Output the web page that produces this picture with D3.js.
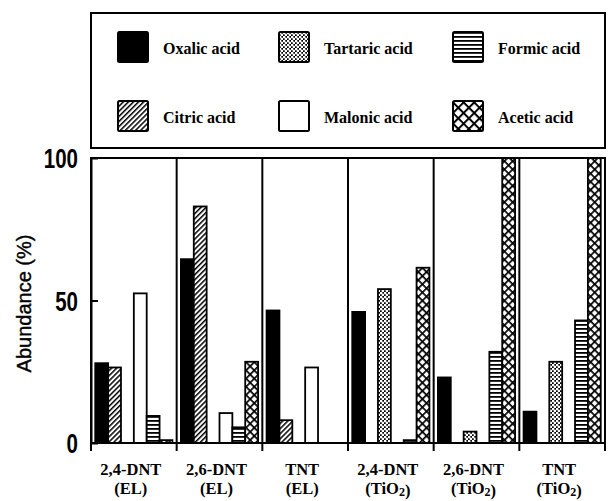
<!DOCTYPE html>
<html>
<head>
<meta charset="utf-8">
<script src="https://cdn.jsdelivr.net/npm/d3@7/dist/d3.min.js"></script>
<style>
  body { margin: 0; background: #fff; }
  svg { display: block; }
</style>
</head>
<body>
<svg id="chart" width="608" height="501"></svg>
<script>
// Nitroaromatic samples and the degradation method used on each
const groupNames   = ["2,4-DNT", "2,6-DNT", "TNT", "2,4-DNT", "2,6-DNT", "TNT"];
const groupMethods = ["EL", "EL", "EL", "TiO2", "TiO2", "TiO2"];

// Carboxylic acids, in bar order inside each group
const acids = ["Oxalic acid", "Citric acid", "Tartaric acid", "Malonic acid", "Formic acid", "Acetic acid"];

// Abundance (%) of each acid for every sample (0 = not detected)
const oxalic   = [28, 64.5, 46.5, 46, 23, 11];
const citric   = [26.5, 83, 8, 0, 0, 0];
const tartaric = [0, 0, 0, 54, 4, 28.5];
const malonic  = [52.5, 10.5, 26.5, 0, 0, 0];
const formic   = [9.5, 5.5, 0, 1, 32, 43];
const acetic   = [1, 28.5, 0, 61.5, 100, 100];

const yTicks = [0, 50, 100];

const series = [oxalic, citric, tartaric, malonic, formic, acetic];

const svg = d3.select("#chart");
const plot = { left: 91, right: 605, top: 158, bottom: 443 };
const legendBox = { left: 91, right: 605, top: 13, bottom: 148 };

// ---- fill patterns ----
const defs = svg.append("defs");
function pattern(id, size, rotate) {
  const p = defs.append("pattern")
    .attr("id", id)
    .attr("patternUnits", "userSpaceOnUse")
    .attr("width", size).attr("height", size);
  if (rotate) p.attr("patternTransform", `rotate(${rotate})`);
  p.append("rect").attr("width", size).attr("height", size).attr("fill", "#fff");
  return p;
}
// tartaric: fine stipple
{
  const p = pattern("pat-tartaric", 4);
  p.select("rect").attr("fill", "#000");
  p.append("circle").attr("cx", 1).attr("cy", 1).attr("r", 1.4).attr("fill", "#fff");
  p.append("circle").attr("cx", 3).attr("cy", 3).attr("r", 1.4).attr("fill", "#fff");
}
// formic: horizontal stripes
{
  const p = pattern("pat-formic", 4);
  p.append("rect").attr("width", 4).attr("height", 1.8).attr("fill", "#000");
}
// citric: diagonal stripes
{
  const p = pattern("pat-citric", 3.6, 45);
  p.append("rect").attr("width", 1.5).attr("height", 3.6).attr("fill", "#000");
}
// acetic: diagonal cross-hatch
function crossHatch(id, size, w) {
  const p = pattern(id, size, 45);
  p.append("rect").attr("width", w).attr("height", size).attr("fill", "#000");
  p.append("rect").attr("width", size).attr("height", w).attr("fill", "#000");
}
crossHatch("pat-acetic", 5.8, 1.7);
crossHatch("pat-acetic-key", 7.5, 2);

const fills = {
  "Oxalic acid": "#000",
  "Citric acid": "url(#pat-citric)",
  "Tartaric acid": "url(#pat-tartaric)",
  "Malonic acid": "#fff",
  "Formic acid": "url(#pat-formic)",
  "Acetic acid": "url(#pat-acetic)"
};
const keyFills = Object.assign({}, fills, { "Acetic acid": "url(#pat-acetic-key)" });

// ---- scales ----
const x0 = d3.scaleBand().domain(d3.range(groupNames.length))
  .range([plot.left, plot.right]).paddingInner(0).paddingOuter(0);
const x1 = d3.scaleBand().domain(acids)
  .range([0, x0.bandwidth()]).paddingInner(0).paddingOuter(0.33);
const y = d3.scaleLinear().domain([0, 100]).range([plot.bottom, plot.top]);
const xEdge = d3.scaleLinear().domain([0, groupNames.length]).range([plot.left, plot.right]);

// ---- bars ----
const barData = [];
groupNames.forEach((g, gi) => {
  acids.forEach((a, ai) => {
    const v = series[ai][gi];
    if (v > 0) barData.push({ gi, acid: a, value: v });
  });
});
svg.append("g").selectAll("rect").data(barData).join("rect")
  .attr("x", d => x0(d.gi) + x1(d.acid))
  .attr("y", d => y(d.value))
  .attr("width", x1.bandwidth())
  .attr("height", d => y(0) - y(d.value))
  .attr("fill", d => fills[d.acid])
  .attr("stroke", "#000")
  .attr("stroke-width", 1.8);

// ---- frame and group dividers ----
svg.append("rect")
  .attr("x", plot.left).attr("y", plot.top)
  .attr("width", plot.right - plot.left).attr("height", plot.bottom - plot.top)
  .attr("fill", "none").attr("stroke", "#000").attr("stroke-width", 2);

svg.append("g").selectAll("line").data(d3.range(groupNames.length + 1)).join("line")
  .attr("x1", d => xEdge(d)).attr("x2", d => xEdge(d))
  .attr("y1", plot.top).attr("y2", plot.bottom + 8)
  .attr("stroke", "#000").attr("stroke-width", 2);

// ---- y axis ----
const narrow = 0.76;
const yAxis = svg.append("g")
  .attr("transform", `translate(${plot.left},0)`)
  .call(d3.axisLeft(y).tickValues(yTicks).tickFormat(d3.format("d"))
    .tickSize(-7).tickSizeOuter(0).tickPadding(13));
yAxis.select(".domain").attr("stroke-width", 2);
yAxis.selectAll(".tick line").attr("stroke-width", 2);
yAxis.selectAll(".tick text")
  .attr("font-family", "'Liberation Sans', Arial, sans-serif")
  .attr("font-weight", "bold")
  .attr("font-size", 27)
  .attr("fill", "#000")
  .attr("x", -13 / narrow)
  .attr("transform", `scale(${narrow},1)`)
  .attr("dy", "0.36em");

svg.append("text")
  .attr("transform", `translate(31,${(plot.top + plot.bottom) / 2 + 3}) rotate(-90)`)
  .attr("text-anchor", "middle")
  .attr("font-family", "'Liberation Sans', Arial, sans-serif")
  .attr("font-size", 20)
  .attr("stroke", "#000").attr("stroke-width", 0.4)
  .attr("fill", "#000")
  .text("Abundance (%)");

// ---- group labels ----
const labelFont = "'Liberation Serif', 'Times New Roman', serif";
const labels = svg.append("g")
  .attr("font-family", labelFont).attr("font-weight", "bold")
  .attr("font-size", 16.5).attr("text-anchor", "middle").attr("fill", "#000");
groupNames.forEach((g, gi) => {
  const cx = x0(gi) + x0.bandwidth() / 2 - 3;
  labels.append("text").attr("x", cx).attr("y", 475).text(g);
  const t = labels.append("text").attr("x", cx).attr("y", 494);
  // chemical formulas: digits become subscripts
  const parts = ("(" + groupMethods[gi] + ")").split(/(\d+)/);
  parts.forEach(p => {
    if (!p) return;
    if (/^\d+$/.test(p)) {
      t.append("tspan").attr("font-size", 12).attr("dy", 2).text(p);
      t.append("tspan").attr("dy", -2).text("");
    } else {
      t.append("tspan").text(p);
    }
  });
});

// ---- legend ----
svg.append("rect")
  .attr("x", legendBox.left).attr("y", legendBox.top)
  .attr("width", legendBox.right - legendBox.left)
  .attr("height", legendBox.bottom - legendBox.top)
  .attr("fill", "#fff").attr("stroke", "#000").attr("stroke-width", 2);

const keyColX = [118, 279, 453];
const keyRowY = [32, 101];
const keys = svg.append("g").selectAll("g").data(acids).join("g")
  .attr("transform", (d, i) => `translate(${keyColX[Math.floor(i / 2)]},${keyRowY[i % 2]})`);
keys.append("rect")
  .attr("width", 30).attr("height", 30).attr("rx", 1.5)
  .attr("fill", d => keyFills[d])
  .attr("stroke", "#000").attr("stroke-width", 2);
keys.append("text")
  .attr("x", 45).attr("y", 22)
  .attr("font-family", labelFont).attr("font-weight", "bold")
  .attr("font-size", 16).attr("fill", "#000")
  .text(d => d);
</script>
</body>
</html>
